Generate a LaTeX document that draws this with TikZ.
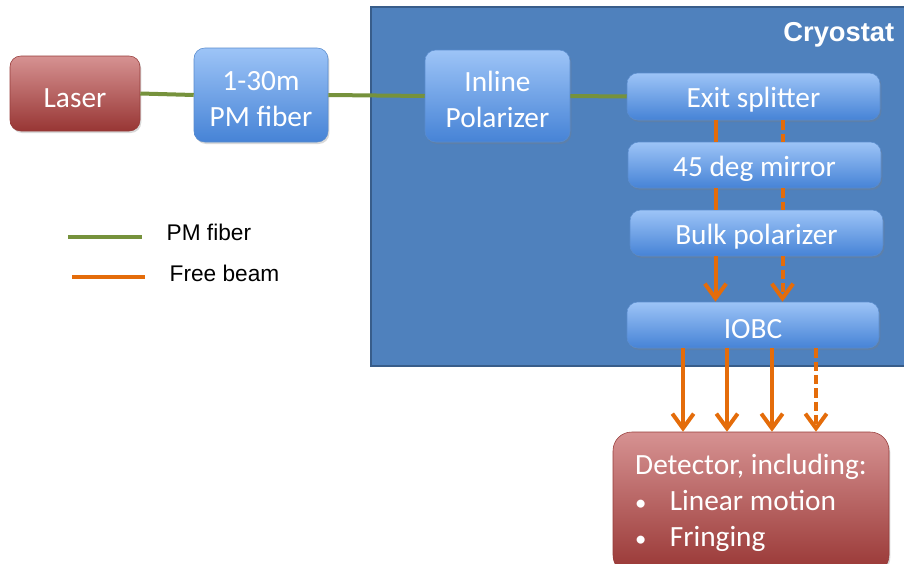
\documentclass[tikz,border=0pt]{standalone}
\usepackage{fontspec}
\setmainfont{Carlito}
\newfontfamily\legendfont{Liberation Sans}
\usetikzlibrary{arrows.meta}
\usetikzlibrary{shadows}

\definecolor{cryofill}{RGB}{79,129,189}
\definecolor{cryoline}{RGB}{56,93,138}
\definecolor{boxtop}{RGB}{157,196,247}
\definecolor{boxbot}{RGB}{70,131,214}
\definecolor{boxline}{RGB}{90,140,205}
\definecolor{redtop}{RGB}{214,146,146}
\definecolor{redbot}{RGB}{152,54,52}
\definecolor{redline}{RGB}{150,60,58}
\definecolor{fibergreen}{RGB}{118,146,60}
\definecolor{beamorange}{RGB}{228,108,10}

\newcommand\boxstrut{\rule{0pt}{20.5pt}}

\tikzset{
  bluebox/.style={rounded corners=8pt, top color=boxtop, bottom color=boxbot, draw=boxline, line width=0.4pt,
    text=white, align=center, font=\fontsize{22}{26.5}\selectfont,
    drop shadow={opacity=0.3, shadow xshift=1pt, shadow yshift=-1.5pt}},
  redbox/.style={bluebox, top color=redtop, bottom color=redbot, draw=redline},
  fiber/.style={draw=fibergreen, line width=3pt},
  beam/.style={draw=beamorange, line width=3pt},
  beamdash/.style={beam, dash pattern=on 7pt off 3pt},
  beamtip/.style={-{Straight Barb[length=11pt,width=16pt]}}
}

\begin{document}
\begin{tikzpicture}[x=0.75pt,y=0.75pt,yscale=-1,xscale=1]

    \useasboundingbox (0,0) rectangle (904,564);

    %Shape: Rectangle [cryostat]
    \draw [fill=cryofill, draw=cryoline, line width=1.5pt] (371,7) rectangle (912,366);
    \node [anchor=east, text=white, font=\legendfont\bfseries\fontsize{20.5}{24}\selectfont] (cryolabel) at (899,35) {Cryostat};

    %Shape: Boxes
    \node [redbox, minimum width=97.5pt, minimum height=56.25pt] (laser) at (75,93.5) {\boxstrut Laser};
    \node [bluebox, minimum width=100.5pt, minimum height=70.5pt] (pmfiber) at (261,95) {\boxstrut 1-30m\\PM fiber};
    \node [bluebox, minimum width=108.75pt, minimum height=69pt] (inline) at (497.5,96) {\boxstrut Inline\\Polarizer};
    \node [bluebox, minimum width=189.75pt, minimum height=35.25pt] (exit) at (753.5,96.5) {\boxstrut Exit splitter};
    \node [bluebox, minimum width=189.75pt, minimum height=34.5pt] (mirror) at (754.5,165) {\boxstrut 45 deg mirror};
    \node [bluebox, minimum width=189.75pt, minimum height=34.5pt] (bulk) at (756.5,233) {\boxstrut Bulk polarizer};
    \node [bluebox, minimum width=189pt, minimum height=34.5pt] (iobc) at (753,325) {\boxstrut IOBC};
    \node [redbox, rounded corners=14pt, minimum width=207pt, minimum height=106.5pt, align=left,
      font=\fontsize{22}{27}\selectfont] (detector) at (751,503)
      {Detector, including:\\
       \makebox[26pt][l]{{\fontsize{17}{17}\selectfont\textbullet}}Linear motion\\
       \makebox[26pt][l]{{\fontsize{17}{17}\selectfont\textbullet}}Fringing};

    %Straight Lines: fiber
    \draw [fiber] (laser.east) -- (pmfiber.west);
    \draw [fiber] (pmfiber.east) -- (inline.west);
    \draw [fiber] (inline.east) -- (exit.west);

    %Straight Lines: free beam
    \coordinate (beamA) at (715.5,0);
    \coordinate (beamB) at (782.5,0);
    \draw [beam] (exit.south -| beamA) -- (mirror.north -| beamA);
    \draw [beamdash] (exit.south -| beamB) -- (mirror.north -| beamB);
    \draw [beam] (mirror.south -| beamA) -- (bulk.north -| beamA);
    \draw [beamdash] (mirror.south -| beamB) -- (bulk.north -| beamB);
    \draw [beam, beamtip] (bulk.south -| beamA) -- (iobc.north -| beamA);
    \draw [beamdash, beamtip] (bulk.south -| beamB) -- (iobc.north -| beamB);

    %Straight Lines: to detector
    \foreach \bx in {683,727,772} {
      \draw [beam, beamtip] (iobc.south -| \bx,0) -- (detector.north -| \bx,0);
    }
    \draw [beamdash, beamtip] (iobc.south -| 816,0) -- (detector.north -| 816,0);

    %Legend
    \coordinate (fibA) at (68,237);
    \coordinate (fibB) at (142,237);
    \coordinate (beamL) at (72,277);
    \coordinate (beamR) at (145,277);
    \draw [fiber] (fibA) -- (fibB);
    \draw [beam] (beamL) -- (beamR);
    \node [anchor=west, font=\legendfont\fontsize{17}{20}\selectfont] (fiblabel) at (162,232) {PM fiber};
    \node [anchor=west, font=\legendfont\fontsize{17}{20}\selectfont] (beamlabel) at (165,273) {Free beam};

\end{tikzpicture}
\end{document}
